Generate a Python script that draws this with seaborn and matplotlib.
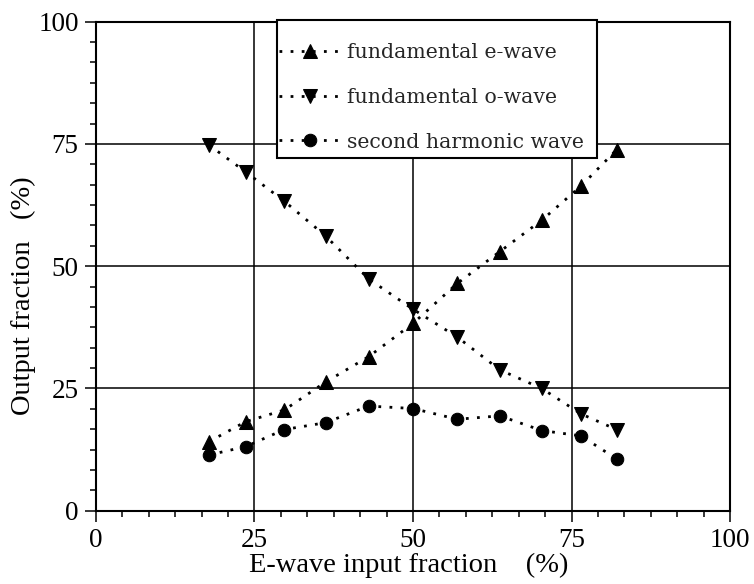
import matplotlib
matplotlib.use("Agg")
import matplotlib.pyplot as plt
import matplotlib.patches as mpatches
from matplotlib.ticker import MultipleLocator
import seaborn as sns
import pandas as pd

# ---- data ----
input_fraction = [17.8, 23.6, 29.7, 36.2, 43.0, 50.0, 57.0, 63.7, 70.3, 76.5, 82.1]
e_wave = [14.1, 18.2, 20.6, 26.3, 31.5, 38.3, 46.5, 53.0, 59.4, 66.4, 73.8]
o_wave = [74.8, 69.3, 63.3, 56.2, 47.4, 41.2, 35.5, 28.8, 25.0, 19.8, 16.6]
second_harmonic = [11.4, 13.1, 16.6, 18.0, 21.4, 20.9, 18.7, 19.4, 16.4, 15.3, 10.6]

series_labels = ["fundamental e-wave", "fundamental o-wave", "second harmonic wave"]
x_ticks = [0, 25, 50, 75, 100]
y_ticks = [0, 25, 50, 75, 100]
x_label = "E-wave input fraction    (%)"
y_label = "Output fraction   (%)"

sns.set_theme(style="white")
plt.rcParams["font.family"] = ["Liberation Serif", "DejaVu Serif"]

df = pd.DataFrame({"x": input_fraction, "e": e_wave, "o": o_wave, "s": second_harmonic})

fig = plt.figure(figsize=(7.54, 5.84), dpi=100)
ax = fig.add_axes([0.1273, 0.1255, 0.8409, 0.8373])

dot = (0, (1, 3))
common = dict(color="black", linewidth=2, markeredgecolor="black", ax=ax, zorder=4)
sns.lineplot(data=df, x="x", y="e", marker="^", markersize=10.5, linestyle=dot,
             label=series_labels[0], **common)
sns.lineplot(data=df, x="x", y="o", marker="v", markersize=10.5, linestyle=dot,
             label=series_labels[1], **common)
sns.lineplot(data=df, x="x", y="s", marker="o", markersize=9, linestyle=dot,
             label=series_labels[2], **common)

ax.set_xlim(0, 100)
ax.set_ylim(0, 100)
ax.set_xticks(x_ticks)
ax.set_yticks(y_ticks)
ax.xaxis.set_minor_locator(MultipleLocator(25 / 6))
ax.yaxis.set_minor_locator(MultipleLocator(25 / 6))
ax.tick_params(which="major", direction="out", length=8, width=1.1, color="black",
               labelsize=19.5, labelcolor="black", pad=4.5, bottom=True, left=True)
ax.tick_params(which="minor", direction="out", length=4.5, width=1.1, color="black",
               bottom=True, left=True)

ax.grid(True, which="major", color="black", linewidth=1.1, linestyle="-")
for sp in ax.spines.values():
    sp.set_visible(True)
    sp.set_color("black")
    sp.set_linewidth(1.5)

ax.set_xlabel(x_label, fontsize=20.5, color="black")
ax.set_ylabel(y_label, fontsize=20.5, color="black")
ax.xaxis.set_label_coords(0.4937, -0.087)
ax.yaxis.set_label_coords(-0.095, 0.44)

# legend box
rect = mpatches.Rectangle((0.2855, 0.722), 0.5045, 0.281, transform=ax.transAxes,
                          facecolor="white", edgecolor="black", linewidth=1.5,
                          zorder=5, clip_on=False)
ax.add_patch(rect)
leg = ax.legend(loc="upper left", bbox_to_anchor=(0.2886, 0.957), frameon=False,
                borderpad=0, borderaxespad=0, handlelength=3.0, handletextpad=0.35,
                labelspacing=1.27, prop={"family": "DejaVu Serif", "size": 14.7})
leg.set_zorder(6)

fig.savefig("out.png", dpi=100)
